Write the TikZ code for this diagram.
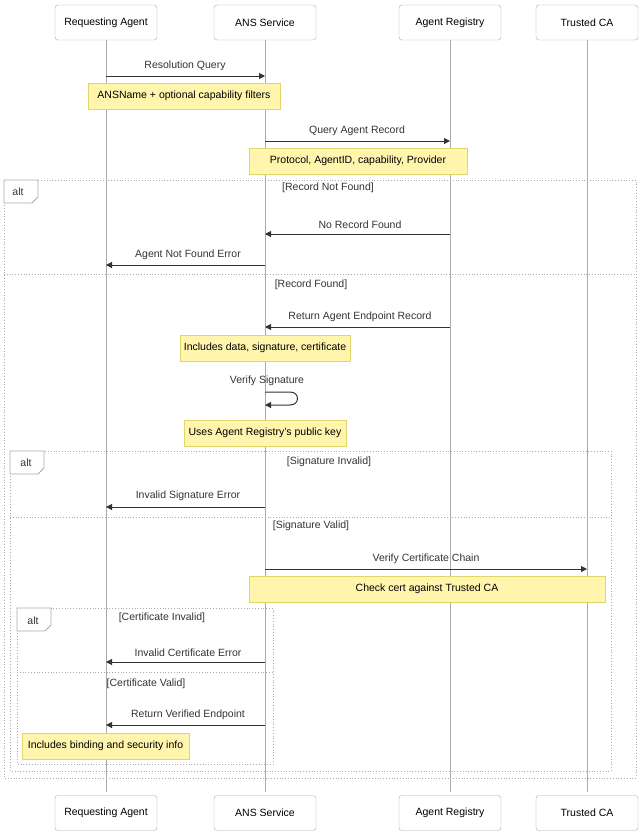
\documentclass[tikz,border=0pt]{standalone}
\usepackage{fontspec}
\setmainfont{Liberation Sans}
\usetikzlibrary{arrows.meta}
\definecolor{notefill}{HTML}{FFF5AD}
\definecolor{notedraw}{HTML}{E0D66B}
\definecolor{linec}{HTML}{AAAAAA}
\definecolor{msgc}{HTML}{333333}
\tikzset{
 actor/.style={draw=linec,fill=white,rounded corners=3pt,minimum width=102pt,minimum height=35pt,font=\fontsize{10.5}{12}\selectfont},
 note/.style={draw=notedraw,fill=notefill,inner sep=0pt,font=\fontsize{10.5}{12}\selectfont},
 lbl/.style={font=\fontsize{10.5}{12}\selectfont,text=msgc},
 msg/.style={draw=msgc,line width=1pt,-{Triangle[length=6pt,width=6pt]}},
 frame/.style={draw=linec,line width=0.8pt,dotted},
 tab/.style={draw=linec,line width=0.8pt,fill=white},
 sep/.style={draw=linec,dotted,line width=0.8pt}
}
\begin{document}
\begin{tikzpicture}[x=1pt,y=-1pt]
\useasboundingbox (0,0) rectangle (640,836);
\foreach \n/\x in {ra/106,ans/265,ar/450,ca/587}{
  \coordinate (\n t) at (\x,40); \coordinate (\n b) at (\x,792);
  \draw[linec,line width=0.8pt] (\n t) -- (\n b);
}
\node[actor] (ra1) at (106,22.5) {Requesting Agent};
\node[actor] (ans1) at (265,22.5) {ANS Service};
\node[actor] (ar1) at (450,22.5) {Agent Registry};
\node[actor] (ca1) at (587,22.5) {Trusted CA};
\node[actor] (ra2) at (106,813) {Requesting Agent};
\node[actor] (ans2) at (265,813) {ANS Service};
\node[actor] (ar2) at (450,813) {Agent Registry};
\node[actor] (ca2) at (587,813) {Trusted CA};
% frames
\draw[frame] (4,180) rectangle (636,778);
\draw[tab] (4,180) -- (38,180) -- (38,197) -- (32,203) -- (4,203) -- cycle;
\node[lbl] (alt1) at (18,192) {alt};
\node[lbl] at (328,188) {[Record Not Found]};
\draw[sep] (4,274) -- (636,274);
\node[lbl] at (311,285) {[Record Found]};
\draw[frame] (10,451) rectangle (611,771);
\draw[tab] (10,451) -- (44,451) -- (44,468) -- (38,474) -- (10,474) -- cycle;
\node[lbl] at (26,463) {alt};
\node[lbl] at (329,462) {[Signature Invalid]};
\draw[sep] (10,517) -- (611,517);
\node[lbl] at (311,526) {[Signature Valid]};
\draw[frame] (17,608) rectangle (273,764);
\draw[tab] (17,608) -- (51,608) -- (51,625) -- (45,631) -- (17,631) -- cycle;
\node[lbl] at (33,621) {alt};
\node[lbl] at (162,618) {[Certificate Invalid]};
\draw[sep] (17,672) -- (273,672);
\node[lbl] at (146,684) {[Certificate Valid]};
% messages
\coordinate (m1a) at (106,76); \coordinate (m1b) at (265,76);
\draw[msg] (m1a) -- (m1b); \node[lbl] at (185,66) {Resolution Query};
\node[note,minimum width=192pt,minimum height=26pt] (n1) at (184,96) {ANSName + optional capability filters};
\coordinate (m2a) at (265,141); \coordinate (m2b) at (450,141);
\draw[msg] (m2a) -- (m2b); \node[lbl] at (357,131) {Query Agent Record};
\node[note,minimum width=218pt,minimum height=26pt] (n2) at (358,161) {Protocol, AgentID, capability, Provider};
\coordinate (m3a) at (450,234); \coordinate (m3b) at (265,234);
\draw[msg] (m3a) -- (m3b); \node[lbl] at (360,225) {No Record Found};
\coordinate (m4a) at (265,265); \coordinate (m4b) at (106,265);
\draw[msg] (m4a) -- (m4b); \node[lbl] at (188,255) {Agent Not Found Error};
\coordinate (m5a) at (450,327); \coordinate (m5b) at (265,327);
\draw[msg] (m5a) -- (m5b); \node[lbl] at (360,317) {Return Agent Endpoint Record};
\node[note,minimum width=170pt,minimum height=26pt] (n3) at (265,348) {Includes data, signature, certificate};
\node[lbl] at (267,381) {Verify Signature};
\coordinate (s1) at (265,392); \coordinate (s2) at (265,405);
\draw[msg] (s1) -- (290,392) .. controls (300,392) and (300,405) .. (290,405) -- (s2);
\node[note,minimum width=162pt,minimum height=26pt] (n4) at (265,433) {Uses Agent Registry's public key};
\coordinate (m6a) at (265,507); \coordinate (m6b) at (106,507);
\draw[msg] (m6a) -- (m6b); \node[lbl] at (188,496) {Invalid Signature Error};
\coordinate (m7a) at (265,569); \coordinate (m7b) at (587,569);
\draw[msg] (m7a) -- (m7b); \node[lbl] at (426,559) {Verify Certificate Chain};
\node[note,minimum width=356pt,minimum height=26pt] (n5) at (427,589) {Check cert against Trusted CA};
\coordinate (m8a) at (265,662); \coordinate (m8b) at (106,662);
\draw[msg] (m8a) -- (m8b); \node[lbl] at (188,653) {Invalid Certificate Error};
\coordinate (m9a) at (265,725); \coordinate (m9b) at (106,725);
\draw[msg] (m9a) -- (m9b); \node[lbl] at (188,715) {Return Verified Endpoint};
\node[note,minimum width=167pt,minimum height=26pt] (n6) at (105.5,746) {Includes binding and security info};
\end{tikzpicture}
\end{document}
